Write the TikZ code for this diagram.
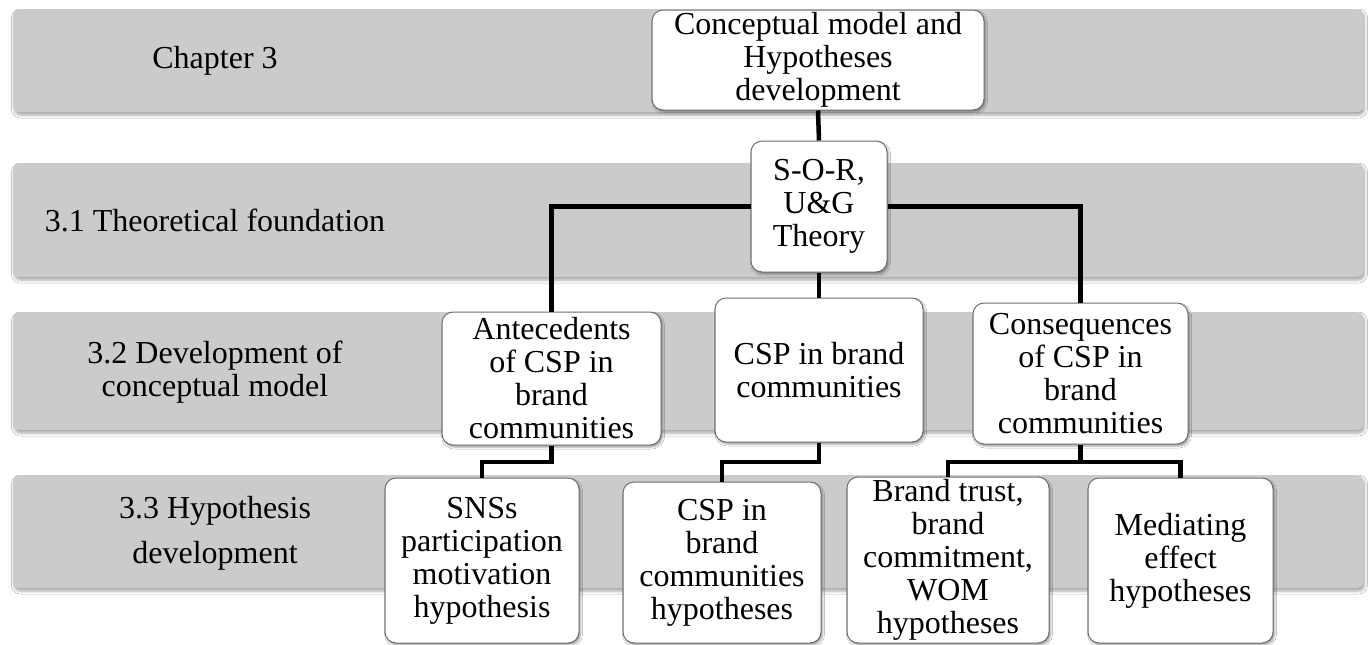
\documentclass[tikz,border=0pt]{standalone}
\usepackage{fontspec}
\setmainfont{Liberation Serif}
\usetikzlibrary{shadows.blur}
\definecolor{bandgray}{HTML}{CBCBCB}
\definecolor{boxedge}{HTML}{6E6E6E}
\tikzset{
  band/.style={fill=bandgray, draw=none, rounded corners=6pt,
    blur shadow={shadow xshift=1.5pt, shadow yshift=-3pt, shadow blur radius=3pt, shadow opacity=35}},
  bandlabel/.style={align=center, inner sep=0pt},
  card/.style={fill=white, draw=boxedge, line width=1pt, rounded corners=11pt,
    align=center, inner sep=0pt,
    blur shadow={shadow xshift=1.5pt, shadow yshift=-2pt, shadow blur radius=2pt, shadow opacity=40}},
  link/.style={line width=4.5pt, black, line join=miter}
}
\begin{document}
\begin{tikzpicture}[x=1pt, y=-1pt, font=\fontsize{32}{33}\selectfont]
\useasboundingbox (0,0) rectangle (1371,645);
\fill[white] (0,0) rectangle (1371,645);

% horizontal section bands
\path[band] (13,9) rectangle (1363,112);
\path[band] (13,163) rectangle (1363,277);
\path[band] (13,312) rectangle (1363,430);
\path[band] (13,475) rectangle (1363,588);

% section labels
\node[bandlabel] (l0) at (215,61) {Chapter 3};
\node[bandlabel] (l1) at (215,220) {3.1 Theoretical foundation};
\node[bandlabel] (l2) at (215,372) {3.2 Development of\\conceptual model};
\node[bandlabel] (l3) at (215,533) {3.3 Hypothesis\\[12pt]development};

% level junction heights
\coordinate (j1) at (0,462);

% boxes
\node[card, minimum width=332pt, minimum height=100pt] (top) at (818,60)
  {Conceptual model and\\Hypotheses\\development};
\node[card, minimum width=136pt, minimum height=131pt] (sor) at (819,206.5)
  {S-O-R,\\U\&G\\Theory};
\node[card, minimum width=219pt, minimum height=133pt] (ant) at (551.5,378.5)
  {Antecedents\\of CSP in\\brand\\communities};
\node[card, minimum width=208pt, minimum height=144pt] (csp) at (819,370)
  {CSP in brand\\communities};
\node[card, minimum width=215pt, minimum height=141pt] (con) at (1080.5,373.5)
  {Consequences\\of CSP in\\brand\\communities};
\node[card, minimum width=194pt, minimum height=165pt] (sns) at (482,560.5)
  {SNSs\\participation\\motivation\\hypothesis};
\node[card, minimum width=198pt, minimum height=161pt] (csph) at (722,562.5)
  {CSP in\\brand\\communities\\hypotheses};
\node[card, minimum width=202pt, minimum height=166pt] (bt) at (948,560)
  {Brand trust,\\brand\\commitment,\\WOM\\hypotheses};
\node[card, minimum width=185pt, minimum height=165pt] (med) at (1180.5,560.5)
  {Mediating\\effect\\hypotheses};

% connectors
\draw[link] (top.south) -- (sor.north);
\draw[link] (sor.west) -| (ant.north);
\draw[link] (sor.east) -| (con.north);
\draw[link] (sor.south) -- (csp.north);
\draw[link] (ant.south) -- (ant.south |- j1) -| (sns.north);
\draw[link] (csp.south) -- (csp.south |- j1) -| (csph.north);
\draw[link] (con.south) -- (con.south |- j1);
\draw[link] (bt.north) -- (bt.north |- j1) -- (med.north |- j1) -- (med.north);
\end{tikzpicture}
\end{document}
